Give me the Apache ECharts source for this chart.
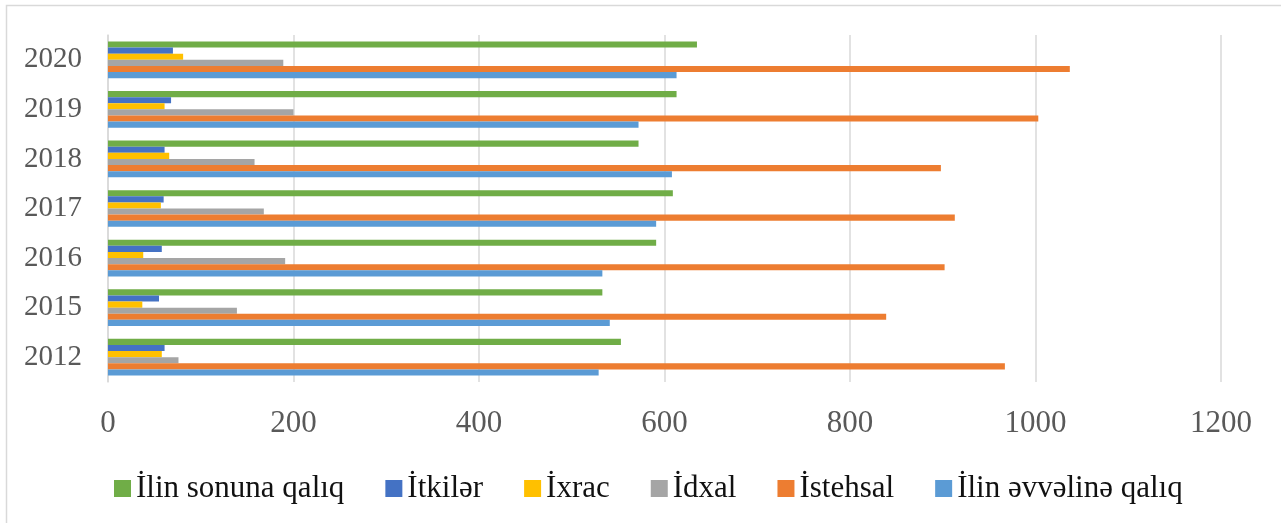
<!DOCTYPE html>
<html>
<head>
<meta charset="utf-8">
<script src="https://cdn.jsdelivr.net/npm/echarts@6/dist/echarts.min.js"></script>
<style>
html, body { margin: 0; padding: 0; background: #fff; }
#chart { width: 1281px; height: 523px; }
</style>
</head>
<body>
<div id="chart"></div>
<script>
var years = ['2012', '2015', '2016', '2017', '2018', '2019', '2020'];

var ilinEvvelineQaliq = [529, 541, 533, 591, 608, 572, 613];
var istehsal = [967, 839, 902, 913, 898, 1003, 1037];
var idxal = [76, 139, 191, 168, 158, 200, 189];
var ixrac = [58, 37, 38, 57, 66, 61, 81];
var itkiler = [61, 55, 58, 60, 61, 68, 70];
var ilinSonunaQaliq = [553, 533, 591, 609, 572, 613, 635];

var legendOrder = ['İlin sonuna qalıq', 'İtkilər', 'İxrac', 'İdxal', 'İstehsal', 'İlin əvvəlinə qalıq'];

function makeBar(_name, _data, _color) {
    return {
        name: _name,
        type: 'bar',
        data: _data,
        barGap: 0,
        barCategoryGap: '26%',
        itemStyle: { color: _color },
        emphasis: { disabled: true }
    };
}

var myChart = echarts.init(document.getElementById('chart'));
var option = {
    animation: false,
    backgroundColor: '#fff',
    textStyle: { fontFamily: 'Liberation Serif' },
    graphic: [{
        type: 'rect',
        shape: { x: 6.5, y: 5.5, width: 1290, height: 540 },
        style: { fill: 'none', stroke: '#d9d9d9', lineWidth: 1.5 },
        silent: true
    }],
    grid: {
        left: 108,
        right: 60,
        top: 35,
        bottom: 141,
        containLabel: false
    },
    legend: {
        data: legendOrder,
        left: 109,
        top: 468,
        itemWidth: 17,
        itemHeight: 17,
        itemGap: 41,
        icon: 'rect',
        textStyle: {
            fontFamily: 'Liberation Serif',
            fontSize: 31,
            color: '#111'
        }
    },
    xAxis: {
        type: 'value',
        min: 0,
        max: 1200,
        interval: 200,
        axisLine: { show: false },
        axisTick: { show: false },
        axisLabel: {
            margin: 26,
            fontSize: 31,
            color: '#595959',
            fontFamily: 'Liberation Serif',
            formatter: function (v) { return String(v); }
        },
        splitLine: { show: true, lineStyle: { color: '#d9d9d9', width: 1.5 } }
    },
    yAxis: {
        type: 'category',
        data: years,
        axisLine: { show: true, lineStyle: { color: '#d9d9d9', width: 1.5 } },
        axisTick: { show: false },
        axisLabel: {
            margin: 26,
            fontSize: 29,
            color: '#595959',
            fontFamily: 'Liberation Serif'
        },
        splitLine: { show: false }
    },
    // first series is drawn at the top of each group
    series: [
        makeBar('İlin sonuna qalıq', ilinSonunaQaliq, '#70AD47'),
        makeBar('İtkilər', itkiler, '#4472C4'),
        makeBar('İxrac', ixrac, '#FFC000'),
        makeBar('İdxal', idxal, '#A5A5A5'),
        makeBar('İstehsal', istehsal, '#ED7D31'),
        makeBar('İlin əvvəlinə qalıq', ilinEvvelineQaliq, '#5B9BD5')
    ]
};
myChart.setOption(option);
</script>
</body>
</html>
